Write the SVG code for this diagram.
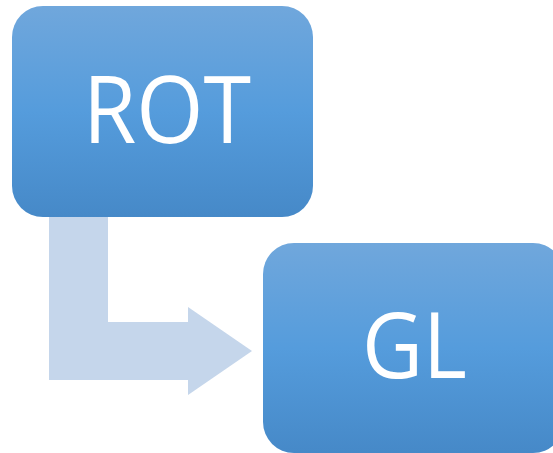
<svg xmlns="http://www.w3.org/2000/svg" width="553" height="453" viewBox="0 0 553 453">
<defs>
<linearGradient id="boxGrad" x1="0" y1="0" x2="0" y2="1">
<stop offset="0" stop-color="#70a7dc"/>
<stop offset="0.5" stop-color="#559cdc"/>
<stop offset="1" stop-color="#4689c8"/>
</linearGradient>
<style>
.box{fill:url(#boxGrad);}
.lbl{font-family:"Open Sans","Noto Sans","Liberation Sans",sans-serif;fill:#ffffff;text-anchor:middle;}
.conn{fill:#c5d6eb;}
</style>
</defs>
<rect width="553" height="453" fill="#ffffff"/>
<g id="connectors">
<path class="conn" d="M49,216 H108 V322 H188 V307 L252,351 L188,395 V380 H49 Z"/>
</g>
<g id="node-rot">
<rect class="box" x="12" y="6" width="301" height="211" rx="31" ry="31"/>
<text class="lbl" x="167" y="143" font-size="94" textLength="168" lengthAdjust="spacingAndGlyphs">ROT</text>
</g>
<g id="node-gl">
<rect class="box" x="263" y="243" width="301" height="210" rx="31" ry="31"/>
<text class="lbl" x="414.5" y="378" font-size="91" textLength="105" lengthAdjust="spacingAndGlyphs">GL</text>
</g>
</svg>
